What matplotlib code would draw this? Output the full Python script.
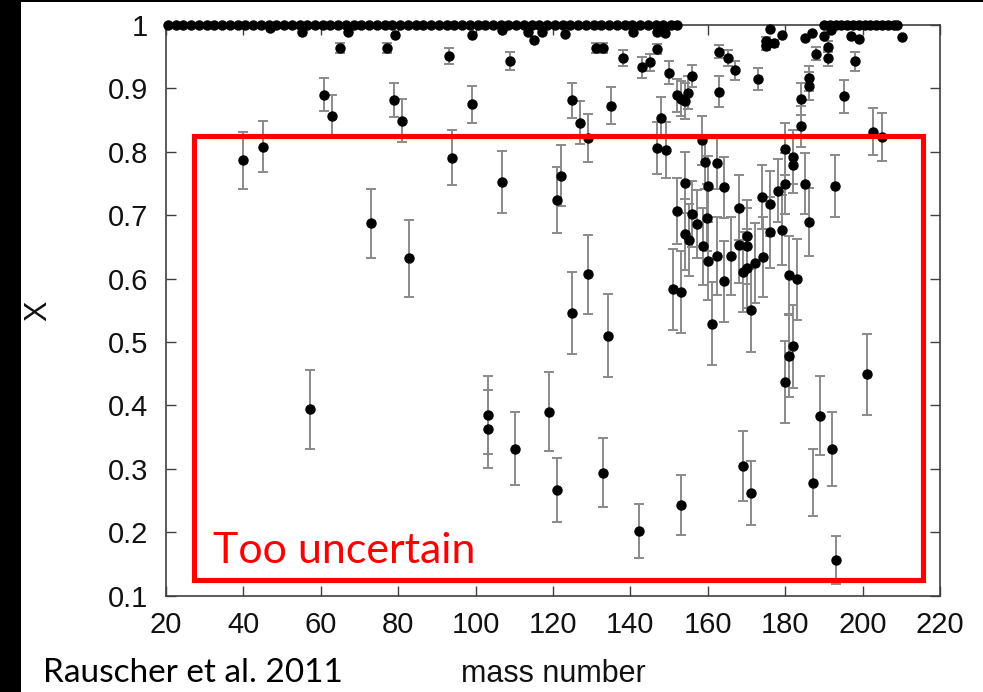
import matplotlib
matplotlib.use('Agg')
import matplotlib.pyplot as plt
from matplotlib.patches import Rectangle

# nuclides with X = 1 (no error bars drawn)
mass_unity = [20.5, 22.5, 24.5, 26.5, 28.5, 30.5, 32.5, 34.5, 36.5, 38.5, 40.5,
              42.5, 44.5, 46.5, 48.5, 50.5, 52.5, 54.5, 56.5, 58.5, 60.5, 62.5,
              64.5, 66.5, 68.5, 70.5, 72.5, 74.5, 76.5, 78.5, 80.5, 82.5, 84.5,
              86.5, 88.5, 90.5, 92.5, 94.5, 96.5, 98.5, 100.5, 102.5, 104.5,
              106.5, 108.5, 110.5, 112.5, 114.5, 116.5, 118.5, 120.5, 122.5,
              124.5, 126.5, 128.5, 130.5, 132.5, 134.5, 136.5, 138.5, 140.5,
              142.5, 144.5, 146.5, 148.5, 150.5, 152.0,
              190.0, 191.5, 193.0, 194.5, 196.0, 197.5, 199.0, 200.5, 202.0,
              203.5, 205.0, 206.5, 208.0, 209.0]

# nuclides just below unity, uncertainty smaller than the marker
mass_near = [46.9, 55.2, 67.1, 79.2, 99.1, 106.9, 113.6, 115.0, 117.2, 123.2,
             140.7, 146.9, 149.0, 176.2, 179.2, 185.0, 186.9, 190.1, 191.8,
             197.0, 199.0, 210.2]
x_near = [0.995, 0.989, 0.989, 0.984, 0.984, 0.992, 0.989, 0.976, 0.989, 0.986,
          0.989, 0.989, 0.987, 0.994, 0.984, 0.980, 0.987, 0.983, 0.992,
          0.982, 0.978, 0.981]

# nuclides with visible uncertainties
mass = [40.0, 45.0, 57.1, 60.8, 63.0, 65.0, 72.9, 77.1, 78.9, 80.9,
        82.9, 93.0, 94.0, 99.0, 103.1, 103.1, 106.9, 108.9, 110.1, 119.0,
        121.0, 121.0, 122.0, 125.0, 125.0, 127.0, 129.0, 129.0, 131.1, 133.0,
        133.0, 134.1, 135.0, 138.0, 142.1, 143.0, 145.0, 147.0, 147.0, 148.0,
        149.1, 150.0, 151.0, 152.0, 152.0, 153.1, 153.1, 153.1, 154.1, 154.1,
        154.2, 155.0, 155.1, 156.0, 156.0, 157.3, 158.6, 158.7, 159.4, 159.9,
        160.0, 160.0, 161.1, 162.3, 162.5, 163.0, 163.0, 164.1, 164.1, 165.1,
        166.0, 167.0, 168.0, 168.1, 169.1, 169.1, 170.0, 170.1, 170.1, 171.2,
        171.2, 172.1, 173.0, 174.0, 174.2, 175.1, 175.1, 176.2, 176.2, 177.1,
        178.1, 179.2, 180.0, 180.0, 180.0, 181.1, 181.1, 182.0, 182.0, 182.0,
        183.0, 184.2, 184.2, 185.0, 186.1, 186.1, 186.1, 187.1, 188.0, 189.1,
        191.1, 191.1, 192.1, 192.9, 193.2, 195.1, 198.1, 201.1, 202.6, 205.0]
x_val = [0.787, 0.808, 0.394, 0.890, 0.856, 0.964, 0.687, 0.964, 0.882, 0.849,
         0.632, 0.951, 0.791, 0.875, 0.385, 0.363, 0.753, 0.943, 0.332, 0.390,
         0.724, 0.267, 0.762, 0.881, 0.546, 0.846, 0.822, 0.607, 0.964, 0.964,
         0.294, 0.510, 0.873, 0.948, 0.202, 0.933, 0.941, 0.962, 0.806, 0.854,
         0.803, 0.925, 0.583, 0.889, 0.706, 0.884, 0.579, 0.243, 0.880, 0.751,
         0.670, 0.893, 0.661, 0.920, 0.702, 0.686, 0.818, 0.651, 0.784, 0.696,
         0.746, 0.628, 0.529, 0.783, 0.636, 0.958, 0.895, 0.744, 0.596, 0.948,
         0.636, 0.929, 0.712, 0.653, 0.611, 0.304, 0.667, 0.651, 0.616, 0.550,
         0.262, 0.624, 0.915, 0.729, 0.634, 0.975, 0.967, 0.718, 0.673, 0.971,
         0.739, 0.677, 0.804, 0.750, 0.437, 0.606, 0.478, 0.792, 0.779, 0.493,
         0.599, 0.883, 0.840, 0.750, 0.916, 0.904, 0.689, 0.278, 0.955, 0.384,
         0.966, 0.948, 0.331, 0.746, 0.156, 0.888, 0.943, 0.449, 0.832, 0.823]
x_err = [0.045, 0.040, 0.062, 0.026, 0.033, 0.008, 0.054, 0.008, 0.027, 0.034,
         0.061, 0.012, 0.043, 0.029, 0.061, 0.061, 0.049, 0.014, 0.058, 0.062,
         0.052, 0.050, 0.048, 0.028, 0.065, 0.034, 0.038, 0.062, 0.008, 0.008,
         0.054, 0.065, 0.029, 0.013, 0.043, 0.016, 0.014, 0.008, 0.041, 0.032,
         0.044, 0.018, 0.064, 0.026, 0.052, 0.027, 0.065, 0.048, 0.028, 0.048,
         0.056, 0.026, 0.057, 0.017, 0.052, 0.054, 0.038, 0.061, 0.042, 0.053,
         0.048, 0.062, 0.065, 0.042, 0.062, 0.010, 0.024, 0.048, 0.064, 0.012,
         0.062, 0.015, 0.051, 0.060, 0.063, 0.055, 0.057, 0.060, 0.063, 0.065,
         0.050, 0.063, 0.017, 0.050, 0.063, 0.006, 0.007, 0.051, 0.056, 0.006,
         0.049, 0.055, 0.041, 0.048, 0.065, 0.062, 0.064, 0.043, 0.044, 0.065,
         0.064, 0.025, 0.033, 0.048, 0.020, 0.022, 0.054, 0.053, 0.010, 0.062,
         0.008, 0.012, 0.058, 0.049, 0.038, 0.026, 0.015, 0.064, 0.037, 0.038]

# highlighted region (mass number range, X range)
box_mass = (27.2, 215.7)
box_x = (0.1254, 0.8257)

W, H = 983, 692
fig = plt.figure(figsize=(W / 100, H / 100), dpi=100)
fig.patch.set_facecolor('black')
fig.add_artist(Rectangle((21 / W, 0), 1 - 21 / W, 1 - 1.5 / H,
                         transform=fig.transFigure, facecolor='white',
                         edgecolor='none', zorder=0))

ax = fig.add_axes([166 / W, 1 - 595.7 / H, 774 / W, 570.7 / H])
ax.set_facecolor('white')

ax.errorbar(mass, x_val, yerr=x_err, fmt='o', color='black', ms=6.5,
            ecolor='#8a8a8a', elinewidth=1.4, capsize=3.5, capthick=1.4,
            zorder=3, clip_on=False)
ax.plot(mass_near, x_near, 'o', color='black', ms=6.5, zorder=4, clip_on=False)
ax.plot(mass_unity, [1.0] * len(mass_unity), 'o', color='black', ms=6.5,
        zorder=4, clip_on=False)

ax.set_xlim(20, 220)
ax.set_ylim(0.1, 1.0)
ax.set_xticks(range(20, 221, 20))
ax.set_yticks([0.1, 0.2, 0.3, 0.4, 0.5, 0.6, 0.7, 0.8, 0.9, 1.0])
ax.set_yticklabels(['0.1', '0.2', '0.3', '0.4', '0.5', '0.6', '0.7', '0.8', '0.9', '1'])

for s in ax.spines.values():
    s.set_color('#404040')
    s.set_linewidth(1.2)
ax.tick_params(direction='in', length=7, width=1, color='#404040',
               top=True, right=True, labelsize=21, labelcolor='#111111')
ax.tick_params(axis='y', pad=13)
ax.tick_params(axis='x', pad=11)
for lab in ax.get_xticklabels() + ax.get_yticklabels():
    lab.set_family('Liberation Sans')

ax.add_patch(Rectangle((box_mass[0], box_x[0]), box_mass[1] - box_mass[0],
                       box_x[1] - box_x[0], fill=False, edgecolor='#ff0000',
                       linewidth=3.7, clip_on=False, zorder=5))

fig.text(213 / W, 1 - 563.3 / H, 'Too uncertain', color='#ff0000',
         fontsize=31, family='Lato', va='baseline', ha='left')
fig.text(43 / W, 1 - 682 / H, 'Rauscher et al. 2011', color='black',
         fontsize=24, family='Lato', va='baseline', ha='left')
fig.text(553 / W, 1 - 681.5 / H, 'mass number', color='#111111',
         fontsize=22, family='Liberation Sans', va='baseline', ha='center')
fig.text(38.5 / W, 1 - 310.5 / H, 'X', color='#111111', rotation=90,
         fontsize=22, family='Liberation Sans', va='center', ha='center')

fig.savefig('out.png', dpi=100, facecolor=fig.get_facecolor())
